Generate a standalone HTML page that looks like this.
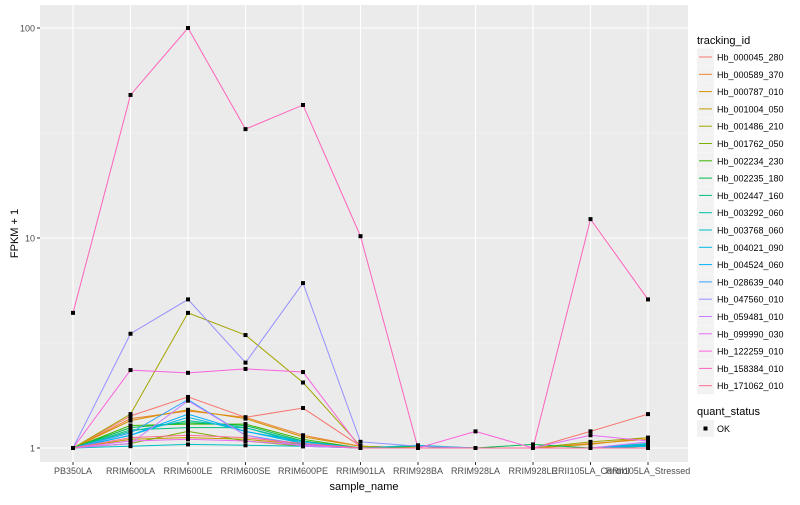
<!DOCTYPE html>
<html><head><meta charset="utf-8"><style>
body{margin:0;background:#fff;font-family:"Liberation Sans",sans-serif}
svg text{font-family:"Liberation Sans",sans-serif}
</style></head><body>
<svg id="c" width="800" height="500"></svg>
<script>
const samples=["PB350LA","RRIM600LA","RRIM600LE","RRIM600SE","RRIM600PE","RRIM901LA","RRIM928BA","RRIM928LA","RRIM928LE","RRII105LA_Control","RRII105LA_Stressed"];
const ids=["Hb_000045_280","Hb_000589_370","Hb_000787_010","Hb_001004_050","Hb_001486_210","Hb_001762_050","Hb_002234_230","Hb_002235_180","Hb_002447_160","Hb_003292_060","Hb_003768_060","Hb_004021_090","Hb_004524_060","Hb_028639_040","Hb_047560_010","Hb_059481_010","Hb_099990_030","Hb_122259_010","Hb_158384_010","Hb_171062_010"];
const colors=["#F8766D","#EA8331","#D89000","#C09B00","#A3A500","#7CAE00","#39B600","#00BB4E","#00BF7D","#00C1A3","#00BFC4","#00BAE0","#00B0F6","#35A2FF","#9590FF","#C77CFF","#E76BF3","#FA62DB","#FF62BC","#FF6C91"];
const values=[
[1.0,1.42,1.75,1.4,1.55,1.02,1.0,1.0,1.0,1.2,1.45],
[1.0,1.38,1.5,1.4,1.15,1.02,1.0,1.0,1.0,1.05,1.1],
[1.0,1.35,1.52,1.38,1.13,1.02,1.0,1.0,1.0,1.04,1.12],
[1.0,1.1,1.12,1.1,1.04,1.0,1.0,1.0,1.0,1.0,1.05],
[1.0,1.45,4.4,3.45,2.05,1.02,1.0,1.0,1.0,1.07,1.12],
[1.0,1.05,1.2,1.08,1.02,1.0,1.0,1.0,1.0,1.0,1.02],
[1.0,1.28,1.3,1.3,1.1,1.0,1.02,1.0,1.0,1.0,1.04],
[1.0,1.25,1.32,1.28,1.08,1.0,1.02,1.0,1.04,1.0,1.04],
[1.0,1.22,1.25,1.25,1.05,1.0,1.0,1.0,1.0,1.0,1.02],
[1.0,1.2,1.35,1.25,1.07,1.0,1.0,1.0,1.0,1.0,1.03],
[1.0,1.02,1.04,1.03,1.02,1.0,1.03,1.0,1.0,1.0,1.05],
[1.0,1.15,1.4,1.2,1.05,1.0,1.0,1.0,1.0,1.0,1.02],
[1.0,1.15,1.45,1.2,1.07,1.0,1.0,1.0,1.0,1.0,1.04],
[1.0,1.18,1.7,1.15,1.04,1.0,1.0,1.0,1.0,1.0,1.0],
[1.0,3.5,5.1,2.55,6.1,1.07,1.02,1.0,1.0,1.0,1.0],
[1.0,1.05,1.68,1.15,1.02,1.0,1.0,1.0,1.0,1.0,1.07],
[1.0,1.08,1.1,1.08,1.03,1.0,1.0,1.0,1.0,1.15,1.08],
[1.0,2.35,2.28,2.38,2.3,1.0,1.0,1.2,1.0,1.0,1.0],
[4.4,48,100,33,43,10.2,1.0,1.0,1.0,12.3,5.1],
[1.0,1.12,1.15,1.12,1.05,1.0,1.0,1.0,1.0,1.0,1.0]];
const yTicks=[1,10,100];
const yLabels=["1","10","100"];
</script>
<script>
const NS="http://www.w3.org/2000/svg",svg=document.getElementById("c");
const PL=40,PR=688,PT=5,PB=462;
function xs(i){return 73+i*(648-73)/(samples.length-1);}
function ys(v){return 448-210*Math.log10(v);}
function mk(t,a,p){const e=document.createElementNS(NS,t);for(const k in a)e.setAttribute(k,a[k]);(p||svg).appendChild(e);return e;}
let bg=mk("rect",{x:PL,y:PT,width:PR-PL,height:PB-PT,fill:"#EBEBEB"});


[0.5,1.5].forEach(d=>{let l=mk("line",{x1:PL,x2:PR,y1:ys(Math.pow(10,d)),y2:ys(Math.pow(10,d)),stroke:"#F5F5F5","stroke-width":0.6});

});
yTicks.forEach((t,i)=>{const y=ys(t);
let g=mk("line",{x1:PL,x2:PR,y1:y,y2:y,stroke:"#fff","stroke-width":1.1});


mk("line",{x1:PL-3,x2:PL,y1:y,y2:y,stroke:"#333"});
let tx=mk("text",{x:PL-5,y:y+3.5,"text-anchor":"end","font-size":9,fill:"#4d4d4d"});tx.textContent=yLabels[i];

});
samples.forEach((s,i)=>{const x=xs(i);
let g=mk("line",{x1:x,x2:x,y1:PT,y2:PB,stroke:"#fff","stroke-width":1.1});


mk("line",{x1:x,x2:x,y1:PB,y2:PB+3,stroke:"#333"});
let tx=mk("text",{x:x,y:PB+12,"text-anchor":"middle","font-size":9,fill:"#4d4d4d"});tx.textContent=s;

});
values.forEach((vs,k)=>{let p=mk("polyline",{points:vs.map((v,i)=>xs(i)+","+ys(v)).join(" "),fill:"none",stroke:colors[k],"stroke-width":1});

});
values.forEach((vs,k)=>vs.forEach((v,i)=>{let r=mk("rect",{x:xs(i)-2,y:ys(v)-2,width:4,height:4,fill:"#000"});

}));
let xt=mk("text",{x:(PL+PR)/2,y:490,"text-anchor":"middle","font-size":11});xt.textContent="sample_name";


let yt=mk("text",{x:18,y:(PT+PB)/2,"text-anchor":"middle","font-size":11,transform:"rotate(-90 18 "+((PT+PB)/2)+")"});yt.textContent="FPKM + 1";


let lt=mk("text",{x:697,y:44,"font-size":11});lt.textContent="tracking_id";


ids.forEach((id,k)=>{const y=57+k*17.3;
let g=mk("g",{});


mk("rect",{x:697,y:y-8.5,width:17,height:17,fill:"#F2F2F2"},g);
mk("line",{x1:699,x2:712,y1:y,y2:y,stroke:colors[k],"stroke-width":1},g);
let t=mk("text",{x:717,y:y+3.5,"font-size":9},g);t.textContent=id;});
let qt=mk("text",{x:697,y:415,"font-size":11});qt.textContent="quant_status";


let q=mk("g",{});


mk("rect",{x:697,y:420,width:17,height:17,fill:"#F2F2F2"},q);
mk("rect",{x:703.5,y:426.5,width:4,height:4,fill:"#000"},q);
let ok=mk("text",{x:717,y:432,"font-size":9},q);ok.textContent="OK";
</script>
</body></html>
